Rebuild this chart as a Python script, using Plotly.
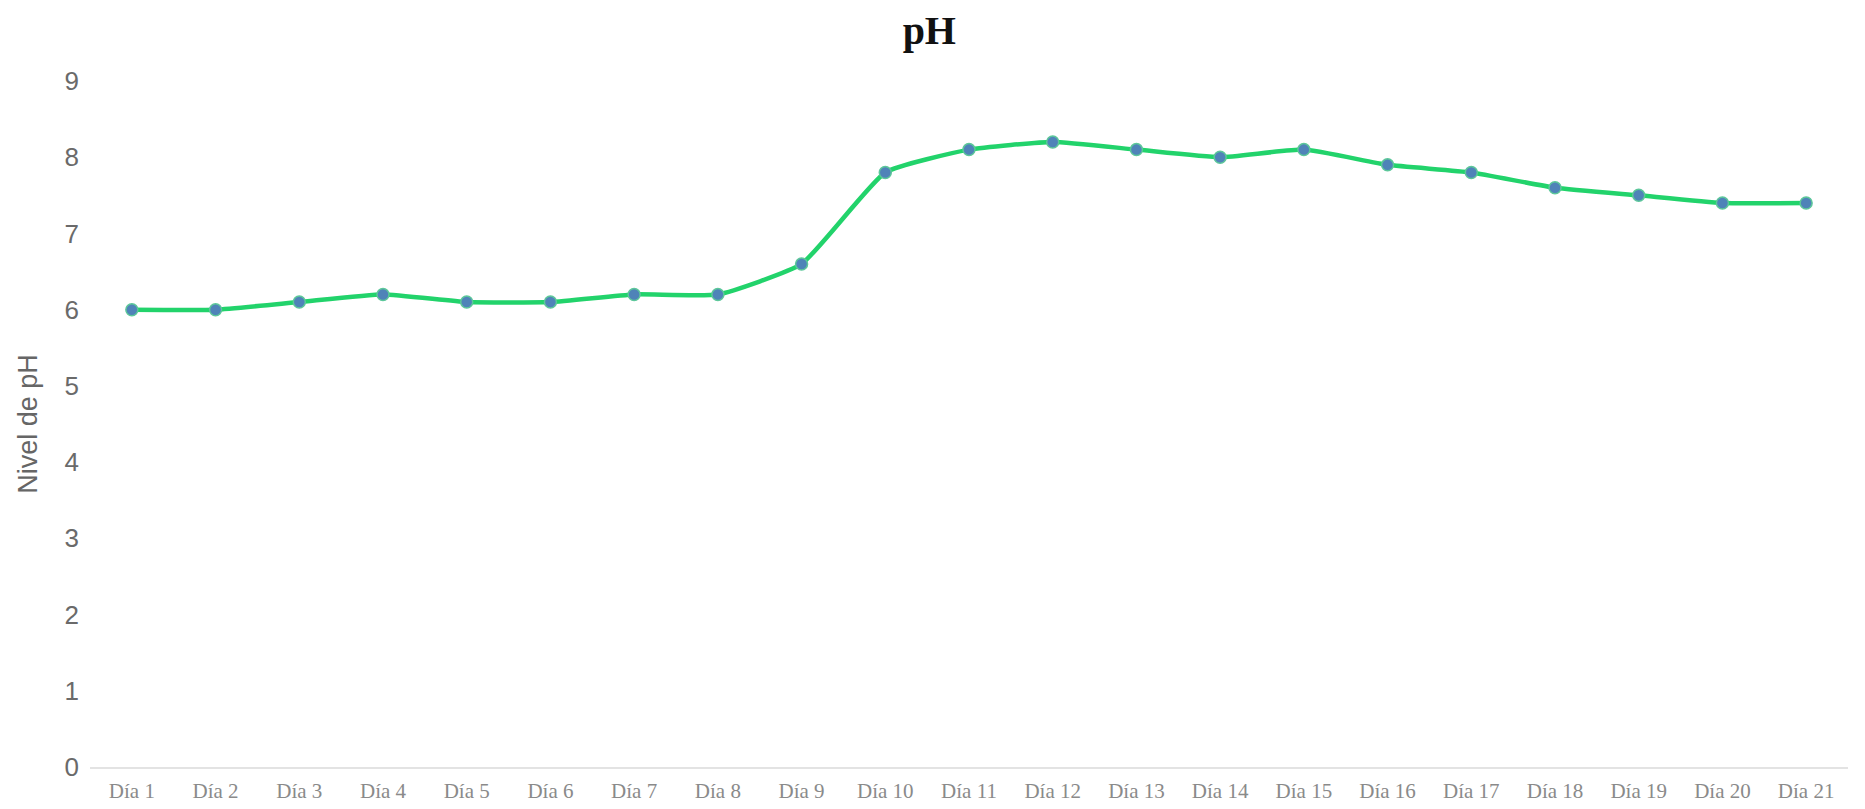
import plotly.graph_objects as go

dias = [f"Día {i}" for i in range(1, 22)]
ph = [6.0, 6.0, 6.1, 6.2, 6.1, 6.1, 6.2, 6.2, 6.6, 7.8, 8.1, 8.2, 8.1, 8.0, 8.1, 7.9, 7.8, 7.6, 7.5, 7.4, 7.4]
y_ticks = list(range(0, 10))

fig = go.Figure()
fig.add_trace(go.Scatter(
    x=dias, y=ph, mode="lines+markers",
    line=dict(color="#22d36b", width=4.5, shape="spline", smoothing=0.45),
    marker=dict(color="#4f83b8", size=12, line=dict(color="#5cc79a", width=1.5)),
    showlegend=False,
))
fig.update_layout(
    width=1865, height=809,
    paper_bgcolor="white", plot_bgcolor="white",
    margin=dict(l=82, r=25, t=73, b=50),
    title=dict(text="<b>pH</b>", x=0.494, xanchor="center", y=0.973, yanchor="middle",
               font=dict(family="Liberation Serif", size=40, color="#111111")),
    xaxis=dict(range=[-0.5, 20.5], automargin=False, showgrid=False, showline=True,
               linecolor="#e3e3e3", linewidth=2,
               ticks="", ticklabelstandoff=4,
               tickfont=dict(family="Liberation Serif", size=21, color="#8a8a8a")),
    yaxis=dict(range=[0, 9], tickvals=y_ticks, automargin=False, showgrid=False,
               zeroline=False, showline=False,
               ticks="", ticklabelstandoff=10,
               tickfont=dict(family="Liberation Sans", size=26, color="#6a6a6a"),
               title=dict(text="Nivel de pH", standoff=19,
                          font=dict(family="Liberation Sans", size=27, color="#666666"))),
)
fig.write_html("out.html")
